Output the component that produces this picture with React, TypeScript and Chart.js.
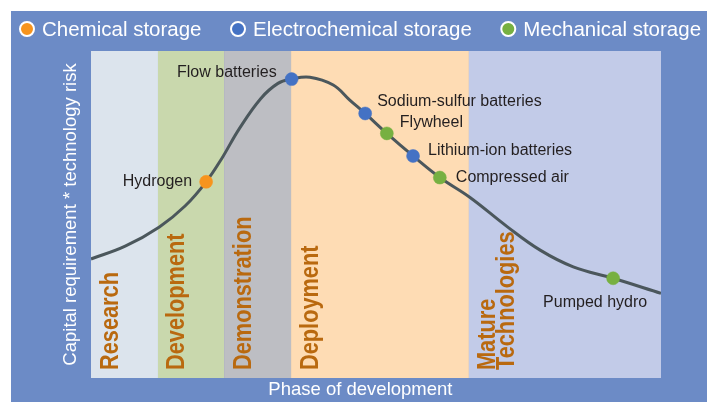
import React, { useEffect, useRef } from 'react';
import { Chart, registerables } from 'chart.js';

Chart.register(...registerables);

// ---------- data ----------
const CATEGORIES = ['Chemical storage', 'Electrochemical storage', 'Mechanical storage'];

const TECH_NAMES = [
  'Hydrogen',
  'Flow batteries',
  'Sodium-sulfur batteries',
  'Flywheel',
  'Lithium-ion batteries',
  'Compressed air',
  'Pumped hydro',
];
const TECH_CATEGORY = [0, 1, 1, 2, 1, 2, 2];
const TECH_X = [20.2, 35.2, 48.1, 51.9, 56.5, 61.2, 91.6];
const TECH_Y = [60.0, 91.4, 80.9, 74.8, 67.9, 61.3, 30.5];

const CURVE_X = [0, 6.0, 12.0, 16.5, 20.2, 23.0, 26.0, 29.8, 32.8, 35.1, 38.4, 42.5, 45.4, 48.1, 51.9, 56.5, 61.2, 66.5, 73.0, 78.8, 84.6, 91.6, 100];
const CURVE_Y = [36.4, 40.3, 46.2, 52.6, 60.0, 67.3, 76.2, 85.5, 90.1, 91.4, 92.0, 89.6, 85.0, 80.9, 74.8, 67.9, 61.3, 55.2, 46.3, 39.1, 34.0, 30.5, 25.9];

const PHASE_LABELS = [['Research'], ['Development'], ['Demonstration'], ['Deployment'], ['Mature', 'Technologies']];
const PHASE_BOUNDS = [0, 11.75, 23.35, 35.1, 66.3, 100];

const Y_TITLE = 'Capital requirement * technology risk';
const X_TITLE = 'Phase of development';

// ---------- styles ----------
const BG_BLUE = '#6c8bc6';
const CATEGORY_COLORS = ['#f7941d', '#4472c4', '#77b041'];
const PHASE_COLORS = ['#dce4ed', '#c9d8ad', '#bdbec3', '#fedcb4', '#c2cbe8'];
const PHASE_TEXT = '#b9690f';
const CURVE_COLOR = '#4b575c';
const LABEL_COLOR = '#231f20';
const FONT = "'Liberation Sans', Arial, sans-serif";

// label placement relative to marker: [align, dx, dy]
const LABEL_PLACEMENT: Record<string, [CanvasTextAlign, number, number]> = {
  'Hydrogen': ['right', -14, 0],
  'Flow batteries': ['right', -15, -6.5],
  'Sodium-sulfur batteries': ['left', 12, -11.5],
  'Flywheel': ['left', 13, -10.5],
  'Lithium-ion batteries': ['left', 15, -5],
  'Compressed air': ['left', 16, 0],
  'Pumped hydro': ['center', -18, 24],
};

const bandsPlugin = {
  id: 'bands',
  beforeDatasetsDraw(chart: any) {
    const { ctx, chartArea, scales } = chart;
    const x = scales.x;
    ctx.save();
    for (let i = 0; i < PHASE_LABELS.length; i++) {
      const x0 = x.getPixelForValue(PHASE_BOUNDS[i]);
      const x1 = x.getPixelForValue(PHASE_BOUNDS[i + 1]);
      ctx.fillStyle = PHASE_COLORS[i];
      ctx.fillRect(x0, chartArea.top, x1 - x0, chartArea.bottom - chartArea.top);
    }
    ctx.fillStyle = PHASE_TEXT;
    ctx.font = `bold 25px ${FONT}`;
    ctx.textAlign = 'left';
    ctx.textBaseline = 'alphabetic';
    for (let i = 0; i < PHASE_LABELS.length; i++) {
      const x0 = x.getPixelForValue(PHASE_BOUNDS[i]);
      PHASE_LABELS[i].forEach((line, j) => {
        ctx.save();
        ctx.translate(x0 + 26.5 + j * 19, chartArea.bottom - 8);
        ctx.rotate(-Math.PI / 2);
        ctx.scale(0.87, 1);
        ctx.fillText(line, 0, 0);
        ctx.restore();
      });
    }
    ctx.restore();
  },
};

const pointLabelsPlugin = {
  id: 'pointLabels',
  afterDatasetsDraw(chart: any) {
    const { ctx } = chart;
    ctx.save();
    ctx.fillStyle = LABEL_COLOR;
    ctx.font = `16px ${FONT}`;
    ctx.textBaseline = 'middle';
    chart.data.datasets.forEach((ds: any, di: number) => {
      if (ds.type !== 'scatter') return;
      const meta = chart.getDatasetMeta(di);
      meta.data.forEach((el: any, i: number) => {
        const name = ds.data[i].name;
        const [align, dx, dy] = LABEL_PLACEMENT[name] || ['left', 12, 0];
        ctx.textAlign = align;
        ctx.fillText(name, el.x + dx, el.y + dy);
      });
    });
    ctx.restore();
  },
};

const legendPlugin = {
  id: 'customLegend',
  afterDraw(chart: any) {
    const { ctx } = chart;
    ctx.save();
    ctx.font = `20.5px ${FONT}`;
    ctx.textBaseline = 'middle';
    ctx.textAlign = 'left';
    let cx = 16;
    const cy = 18;
    CATEGORIES.forEach((cat, i) => {
      ctx.beginPath();
      ctx.arc(cx, cy, 7, 0, Math.PI * 2);
      ctx.fillStyle = CATEGORY_COLORS[i];
      ctx.fill();
      ctx.lineWidth = 2;
      ctx.strokeStyle = '#ffffff';
      ctx.stroke();
      ctx.fillStyle = '#ffffff';
      const tx = cx + 15;
      ctx.fillText(cat, tx, cy + 1);
      cx = tx + ctx.measureText(cat).width + 36.5;
    });
    ctx.restore();
  },
};

export default function App() {
  const ref = useRef<HTMLCanvasElement | null>(null);

  useEffect(() => {
    if (!ref.current) return;
    const scatterSets = CATEGORIES.map((cat, ci) => ({
      type: 'scatter' as const,
      label: cat,
      data: TECH_NAMES.map((n, i) => ({ x: TECH_X[i], y: TECH_Y[i], name: n, c: TECH_CATEGORY[i] }))
        .filter((p) => p.c === ci),
      pointRadius: 6.5,
      pointBackgroundColor: CATEGORY_COLORS[ci],
      pointBorderColor: CATEGORY_COLORS[ci],
      pointBorderWidth: 0.5,
      order: 0,
    }));
    const chart = new Chart(ref.current, {
      type: 'line',
      data: {
        datasets: [
          ...scatterSets,
          {
            type: 'line' as const,
            label: 'curve',
            data: CURVE_X.map((x, i) => ({ x, y: CURVE_Y[i] })),
            borderColor: CURVE_COLOR,
            borderWidth: 3,
            pointRadius: 0,
            tension: 0.4,
            fill: false,
            order: 10,
          },
        ] as any,
      },
      options: {
        responsive: false,
        animation: false,
        events: [],
        layout: { padding: { top: 40, left: 48.8, right: 46, bottom: 0.8 } },
        scales: {
          x: { type: 'linear', min: 0, max: 100, display: false },
          y: {
            type: 'linear',
            min: 0,
            max: 100,
            display: true,
            ticks: { display: false },
            grid: { display: false },
            border: { display: false },
            title: {
              display: true,
              text: Y_TITLE,
              color: '#ffffff',
              font: { family: FONT, size: 18.5 },
              padding: { top: 0, bottom: 1 },
            },
          },
        },
        plugins: {
          legend: { display: false },
          tooltip: { enabled: false },
          title: {
            display: true,
            position: 'bottom',
            text: X_TITLE,
            color: '#ffffff',
            font: { family: FONT, size: 18.5, weight: 'normal' },
            padding: { top: 1, bottom: 0 },
          },
        },
      } as any,
      plugins: [bandsPlugin, pointLabelsPlugin, legendPlugin],
    });
    return () => chart.destroy();
  }, []);

  return (
    <div style={{ position: 'fixed', left: 0, top: 0, width: 707, height: 402, background: '#ffffff' }}>
      <canvas
        ref={ref}
        width={696}
        height={391}
        style={{ position: 'absolute', left: 11, top: 11, width: 696, height: 391, background: BG_BLUE }}
      />
    </div>
  );
}
